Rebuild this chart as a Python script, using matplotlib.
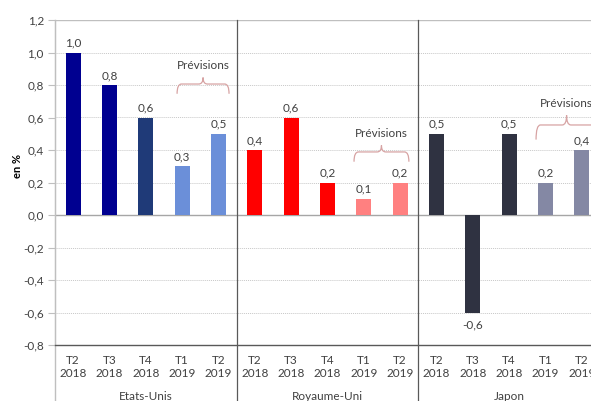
import matplotlib.pyplot as plt
import numpy as np
from matplotlib.path import Path
from matplotlib.patches import PathPatch

plt.rcParams['font.family'] = ['Lato', 'DejaVu Sans']

# quarterly GDP growth, q/q in %
countries = ['Etats-Unis', 'Royaume-Uni', 'Japon']
quarters = ['T2\n2018', 'T3\n2018', 'T4\n2018', 'T1\n2019', 'T2\n2019']
us = [1.0, 0.8, 0.6, 0.3, 0.5]
uk = [0.4, 0.6, 0.2, 0.1, 0.2]
jp = [0.5, -0.6, 0.5, 0.2, 0.4]

us_colors = ['#000090', '#000090', '#1F3A78', '#6B8FD9', '#6B8FD9']
uk_colors = ['#FF0000', '#FF0000', '#FF0000', '#FF8080', '#FF8080']
jp_colors = ['#2F3241', '#2F3241', '#2F3241', '#8488A4', '#8488A4']

values = us + uk + jp
colors = us_colors + uk_colors + jp_colors
x = np.arange(len(values))


def fr(v):
    # french decimal comma, no "-0,0"
    v = round(v, 1) + 0.0
    return f'{v:.1f}'.replace('.', ',')


fig = plt.figure(figsize=(5.91, 4.01), dpi=100)
ax = fig.add_axes([55/591, 56/401, 545/591, 325/401])

ax.bar(x, values, width=0.42, color=colors, zorder=3)

ax.set_xlim(-0.5, 14.5)
ax.set_ylim(-0.8, 1.2)

# grid
for y in np.arange(-0.6, 1.21, 0.2):
    if abs(y) < 1e-9:
        ax.axhline(0, color='#a6a6a6', lw=1.0, zorder=2)
    else:
        ax.axhline(y, color='#c8c8c8', lw=0.7, ls=(0, (1, 1)), zorder=1)

yt = np.round(np.arange(-0.8, 1.21, 0.2), 1)
ax.set_yticks(yt)
ax.set_yticklabels([fr(v) for v in yt], fontsize=8.5, color='#404040')
ax.tick_params(axis='y', length=5, color='#bfbfbf', width=0.8, pad=3)

ax.set_xticks(x)
ax.set_xticklabels(quarters * 3, fontsize=8.5, color='#404040', linespacing=1.25)
ax.tick_params(axis='x', length=0, pad=7)

for s in ['top', 'right']:
    ax.spines[s].set_visible(False)
ax.spines['left'].set_color('#bfbfbf')
ax.spines['bottom'].set_color('#595959')
ax.spines['bottom'].set_linewidth(1.0)
ax.axhline(1.2, color='#bfbfbf', lw=1.0, zorder=2)

# left axis and group separators run down through the label area
ax.axvline(-0.5, ymin=-56/325, ymax=1, color='#bfbfbf', lw=1.0, clip_on=False)
for sep in [4.5, 9.5]:
    ax.axvline(sep, ymin=-56/325, ymax=1, color='#595959', lw=0.9, clip_on=False, zorder=4)

for i, c in enumerate(countries):
    ax.text(i * 5 + 2, -0.157, c, transform=ax.get_xaxis_transform(),
            ha='center', va='center', fontsize=8.5, color='#404040')

# value labels
for xi, v in zip(x, values):
    if v >= 0:
        ax.text(xi, v + 0.025, fr(v), ha='center', va='bottom', fontsize=8.5, color='#404040')
    else:
        ax.text(xi, v - 0.04, fr(v), ha='center', va='top', fontsize=8.5, color='#404040')


def brace(x0, x1, yb, drop, peak):
    xm = (x0 + x1) / 2
    r = 0.12
    verts = [(x0, yb - drop), (x0, yb), (x0 + r, yb),
             (xm - r, yb), (xm, yb), (xm, yb + peak),
             (xm, yb), (xm + r, yb),
             (x1 - r, yb), (x1, yb), (x1, yb - drop)]
    codes = [Path.MOVETO, Path.CURVE3, Path.CURVE3,
             Path.LINETO, Path.CURVE3, Path.CURVE3,
             Path.CURVE3, Path.CURVE3,
             Path.LINETO, Path.CURVE3, Path.CURVE3]
    ax.add_patch(PathPatch(Path(verts, codes), fill=False, ec='#D7A3A3',
                           lw=0.9, clip_on=False, zorder=4))
    ax.text(xm, yb + peak + 0.04, 'Prévisions', ha='center', va='bottom',
            fontsize=8.5, color='#404040', clip_on=False)


brace(2.86, 4.29, 0.806, 0.06, 0.04)
brace(7.73, 9.24, 0.388, 0.06, 0.04)
brace(12.74, 14.42, 0.554, 0.09, 0.06)

ax.text(-0.068, 0.3, 'en %', transform=ax.get_yaxis_transform(), rotation=90,
        ha='center', va='center', fontsize=8, fontweight='bold', color='#000000')

fig.savefig('out.png', dpi=100)
